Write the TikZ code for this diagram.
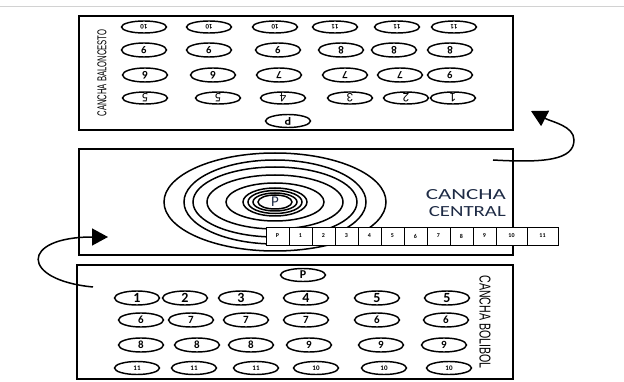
\documentclass[tikz,border=0pt]{standalone}
\usepackage{fontspec}
\setsansfont{Carlito}
\newfontfamily\libsans{Liberation Sans}
\usetikzlibrary{shapes.geometric,arrows.meta}
\definecolor{ink}{HTML}{1E2B45}
\begin{document}
\begin{tikzpicture}[x=1pt,y=-1pt,
  box/.style={draw,line width=1.8pt,inner sep=0pt},
  ov/.style={draw,ellipse,line width=1.45pt,minimum width=45pt,minimum height=13pt,inner sep=0pt},
  cell/.style={draw,fill=white,line width=0.8pt,minimum height=18pt,inner sep=0pt,font=\sffamily\bfseries\fontsize{6}{6}\selectfont},
  ring/.style={line width=1.5pt},
  curved/.style={line width=1.5pt,-{Triangle[length=16pt,width=17pt]}}]
\useasboundingbox (0,0) rectangle (624,382);
\draw[gray!35,line width=0.8pt] (0,6) -- (624,6);

% boxes
\node[box,minimum width=434pt,minimum height=114pt] (bal) at (296,73) {};
\node[box,minimum width=434pt,minimum height=106pt] (cen) at (296,202) {};
\node[box,minimum width=436pt,minimum height=114pt] (bol) at (295,322) {};

% labels
\node[rotate=90,inner sep=0pt] (lbal) at (102,73) {\resizebox{87pt}{9pt}{\libsans CANCHA BALONCESTO}};
\node[rotate=-90,inner sep=0pt] (lbol) at (485,322) {\resizebox{93pt}{11pt}{\libsans CANCHA BOLIBOL}};
\node[anchor=east,align=right,inner sep=0pt,text=ink,font=\sffamily] (lcen) at (506,203)
  {\resizebox{80pt}{10pt}{CANCHA}\\[5pt]\resizebox{77pt}{10pt}{CENTRAL}};

% top court ellipses (upside down)
\foreach \x/\t [count=\i] in {144/10,209/10,275/10,335/11,397/11,454/11}
  \node[ov,rotate=180,minimum height=12pt,font=\sffamily\bfseries\fontsize{7}{7}\selectfont] (ta\i) at (\x,27) {\t};
\foreach \x/\t [count=\i] in {144/9,209/9,278/9,341/8,394/8,450/8}
  \node[ov,rotate=180,minimum height=14pt,font=\sffamily\bfseries\fontsize{11}{11}\selectfont] (tb\i) at (\x,50) {\t};
\foreach \x/\t [count=\i] in {145/6,213/6,279/7,345/7,400/7,450/9}
  \node[ov,rotate=180,minimum height=14pt,font=\sffamily\bfseries\fontsize{11}{11}\selectfont] (tc\i) at (\x,75) {\t};
\foreach \x/\t [count=\i] in {145/5,218/5,283/4,350/3,406/2,453/1}
  \node[ov,rotate=180,minimum height=12pt,font=\sffamily\fontsize{13}{13}\selectfont] (td\i) at (\x,98) {\t};
\node[ov,rotate=180,font=\sffamily\bfseries\fontsize{12}{12}\selectfont] (tp) at (288,121) {P};

% central court rings
\foreach \rx/\ry in {111/49,91/42,82/35,68/27,49/19,32/14,27/11.5,22/9,17/7}
  \draw[ring] (275,202) ellipse [x radius=\rx, y radius=\ry];
\node[text=ink,inner sep=0pt,font=\sffamily\fontsize{15}{15}\selectfont] (pc) at (275,202) {P};

% number strip
\foreach \l/\a/\b [count=\i] in {P/266/289,1/289/312,2/312/335,3/335/358,4/358/381,5/381/404,6/404/427,7/427/450,8/450/473,9/473/496,10/496/527,11/527/558}
  \node[cell,minimum width=\b-\a] (c\i) at ({(\a+\b)/2},236) {\l};

% bottom court ellipses
\node[ov,font=\sffamily\bfseries\fontsize{12}{12}\selectfont] (bp) at (303,275) {P};
\foreach \x/\t [count=\i] in {137/1,185/2,241/3,306/4,377/5,447/5}
  \node[ov,minimum height=14pt,font=\sffamily\bfseries\fontsize{14}{14}\selectfont] (ba\i) at (\x,298) {\t};
\foreach \x/\t [count=\i] in {141/6,191/7,246/7,306/7,377/6,446/6}
  \node[ov,minimum height=14pt,font=\sffamily\bfseries\fontsize{11}{11}\selectfont] (bb\i) at (\x,320) {\t};
\foreach \x/\t [count=\i] in {141/8,197/8,251/8,309/9,381/9,444/9}
  \node[ov,minimum height=14pt,font=\sffamily\bfseries\fontsize{11}{11}\selectfont] (bc\i) at (\x,345) {\t};
\foreach \x/\t [count=\i] in {137/11,194/11,256/11,316/10,384/10,449/10}
  \node[ov,minimum height=13pt,font=\sffamily\bfseries\fontsize{7}{7}\selectfont] (bd\i) at (\x,368) {\t};

% arrows
\coordinate (a1s) at (493,160);
\coordinate (a1e) at (531,111);
\draw[curved] (a1s) .. controls (545,163) and (574,160) .. (574,140) .. controls (574,126) and (552,122) .. (a1e);
\coordinate (a2s) at (93,287);
\coordinate (a2e) at (108,237);
\draw[curved] (a2s) .. controls (20,280) and (20,237) .. (a2e);
\end{tikzpicture}
\end{document}
